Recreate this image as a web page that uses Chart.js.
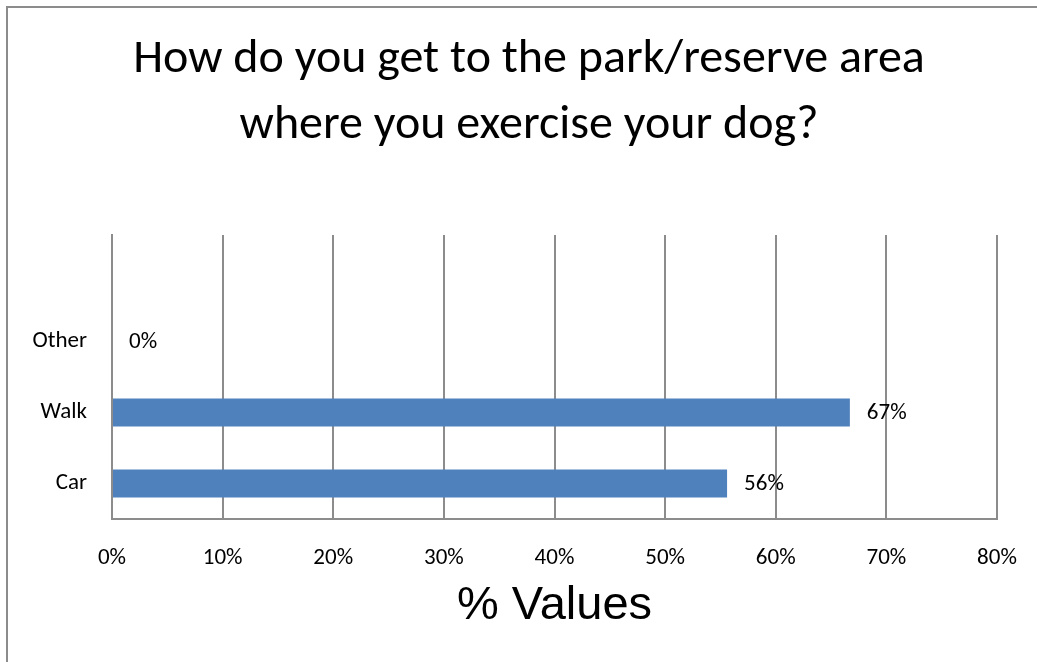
<!DOCTYPE html>
<html>
<head>
<meta charset="utf-8">
<script src="https://cdn.jsdelivr.net/npm/chart.js@4"></script>
<style>
  html, body { margin: 0; padding: 0; background: #fff; }
  #wrap { width: 1037px; height: 662px; }
</style>
</head>
<body>
<div id="wrap"><canvas id="grafico"></canvas></div>
<script>
// Datos (de abajo hacia arriba)
const categorias = ['Car', 'Walk', 'Other', ''];
const valores = [55.6, 66.7, 0, null];
const ticksX = ['0%', '10%', '20%', '30%', '40%', '50%', '60%', '70%', '80%'];
const tituloLineas = ['How do you get to the park/reserve area', 'where you exercise your dog?'];
const tituloEje = '% Values';

const fuente = "Carlito, Lato, 'Open Sans', sans-serif";

// Marco gris y titulo del grafico
const marco = {
  id: 'marco',
  beforeDraw(chart) {
    const ctx = chart.ctx;
    ctx.save();
    ctx.fillStyle = '#fff';
    ctx.fillRect(0, 0, chart.width, chart.height);
    ctx.strokeStyle = '#8c8c8c';
    ctx.lineWidth = 2;
    ctx.beginPath();
    ctx.moveTo(7, chart.height);
    ctx.lineTo(7, 7);
    ctx.lineTo(chart.width, 7);
    ctx.stroke();
    ctx.restore();
  },
  afterDraw(chart) {
    const ctx = chart.ctx;
    ctx.save();
    ctx.font = '48px ' + fuente;
    ctx.fillStyle = '#000';
    ctx.textAlign = 'center';
    ctx.textBaseline = 'alphabetic';
    ctx.fillText(tituloLineas[0], 529, 72);
    ctx.fillText(tituloLineas[1], 529, 138);
    ctx.restore();
  }
};

// Etiquetas de valor al final de cada barra
const etiquetas = {
  id: 'etiquetas',
  afterDatasetsDraw(chart) {
    const ctx = chart.ctx;
    const meta = chart.getDatasetMeta(0);
    ctx.save();
    ctx.font = '23px ' + fuente;
    ctx.fillStyle = '#000';
    ctx.textAlign = 'left';
    ctx.textBaseline = 'middle';
    meta.data.forEach((bar, i) => {
      const v = valores[i];
      if (v === null) return;
      ctx.fillText(Math.round(v) + '%', bar.x + 17, bar.y + 1);
    });
    ctx.restore();
  }
};

const ctx = document.getElementById('grafico').getContext('2d');
new Chart(ctx, {
  type: 'bar',
  data: {
    labels: categorias,
    datasets: [{
      data: valores,
      backgroundColor: '#4f81bd',
      borderWidth: 0,
      categoryPercentage: 0.8,
      barPercentage: 0.49
    }]
  },
  options: {
    indexAxis: 'y',
    responsive: true,
    maintainAspectRatio: false,
    animation: false,
    layout: { padding: { left: 15, right: 40, top: 235, bottom: 0 } },
    plugins: {
      legend: { display: false },
      tooltip: { enabled: false },
      title: { display: false }
    },
    scales: {
      x: {
        min: 0,
        max: 80,
        ticks: {
          stepSize: 10,
          color: '#000',
          font: { family: fuente, size: 23 },
          padding: 25,
          callback: (v, i) => ticksX[i]
        },
        grid: { color: '#8c8c8c', lineWidth: 2, drawTicks: false },
        border: { color: '#8c8c8c', width: 2 },
        title: {
          display: true,
          text: tituloEje,
          color: '#000',
          font: { family: "'Liberation Sans', Arial, sans-serif", size: 47 },
          padding: { top: 10, bottom: 28 }
        },
        afterFit(scale) {
          scale.height = 143;
          scale.paddingLeft = 0;
          scale.paddingRight = 0;
        }
      },
      y: {
        reverse: true,
        ticks: {
          color: '#000',
          font: { family: fuente, size: 23 },
          padding: 25
        },
        grid: { display: false, drawTicks: false },
        border: { color: '#8c8c8c', width: 2 },
        afterFit(scale) { scale.width = 97; }
      }
    }
  },
  plugins: [marco, etiquetas]
});
</script>
</body>
</html>
